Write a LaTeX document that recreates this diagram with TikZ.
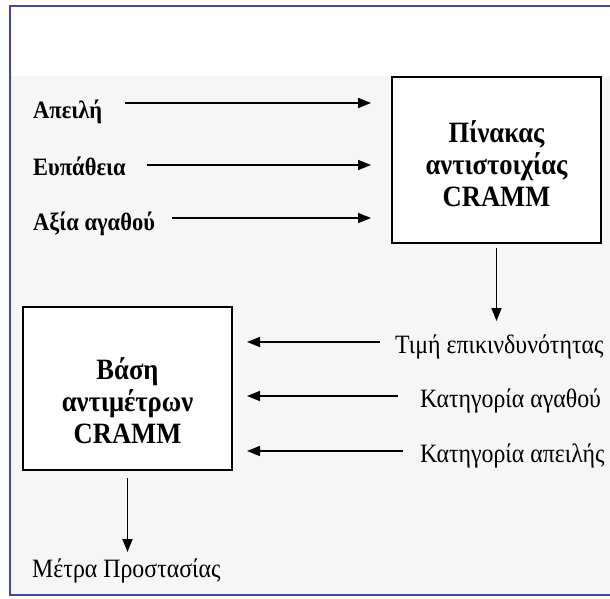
\documentclass[tikz,border=0pt]{standalone}
\usepackage{fontspec}
\setmainfont{Liberation Serif}[FakeStretch=0.9]
\usetikzlibrary{arrows.meta}
\definecolor{frameblue}{RGB}{70,70,170}
\definecolor{bggray}{RGB}{246,246,246}
\begin{document}
\begin{tikzpicture}[x=1pt,y=-1pt,
  box/.style={draw, line width=1.8pt, fill=white, inner sep=0pt},
  boxtxt/.style={align=center, inner sep=0pt, font=\fontsize{29.5}{32}\selectfont\bfseries},
  llbl/.style={anchor=base west, inner sep=0pt, font=\fontsize{25}{26}\selectfont\bfseries},
  rlbl/.style={anchor=base west, inner sep=0pt, font=\fontsize{26.5}{28}\selectfont},
  arr/.style={line width=1.6pt, -{Triangle[length=13pt,width=10pt]}}]
\useasboundingbox (0,0) rectangle (610,598);
\fill[white] (0,0) rectangle (610,598);
\fill[bggray] (10,76) rectangle (640,595);
\draw[frameblue, line width=2.5pt] (10,6) rectangle (640,595);
% boxes
\node[box, minimum width=209pt, minimum height=166pt,
  label={[boxtxt, yshift=-4pt]center:Πίνακας\\αντιστοιχίας\\CRAMM}] (pin) at (496.5,160) {};
\node[box, minimum width=209pt, minimum height=163pt,
  label={[boxtxt, yshift=-12pt]center:Βάση\\αντιμέτρων\\CRAMM}] (vasi) at (127.5,388.5) {};
% left labels
\node[llbl] (l1) at (33,118) {Απειλή};
\node[llbl] (l2) at (33,175) {Ευπάθεια};
\node[llbl] (l3) at (33,230) {Αξία αγαθού};
\coordinate (t1) at (371,103);
\coordinate (t2) at (371,165);
\coordinate (t3) at (371,218);
\draw[arr] (125,103) -- (t1);
\draw[arr] (147,165) -- (t2);
\draw[arr] (172,218) -- (t3);
% down arrow from table
\coordinate (d1) at (496.5,321);
\draw[arr] (496.5,248) -- (d1);
% right labels
\node[rlbl] (r1) at (395,353) {Τιμή επικινδυνότητας};
\node[rlbl] (r2) at (420,407) {Κατηγορία αγαθού};
\node[rlbl] (r3) at (420,462) {Κατηγορία απειλής};
\coordinate (s1) at (247,342);
\coordinate (s2) at (247,396);
\coordinate (s3) at (247,451);
\draw[arr] (380,342) -- (s1);
\draw[arr] (398,396) -- (s2);
\draw[arr] (403,451) -- (s3);
% output
\node[rlbl] (out) at (32,577) {Μέτρα Προστασίας};
\coordinate (o1) at (127.5,552);
\draw[arr] (vasi.south) ++(0,7) -- (o1);
\end{tikzpicture}
\end{document}
